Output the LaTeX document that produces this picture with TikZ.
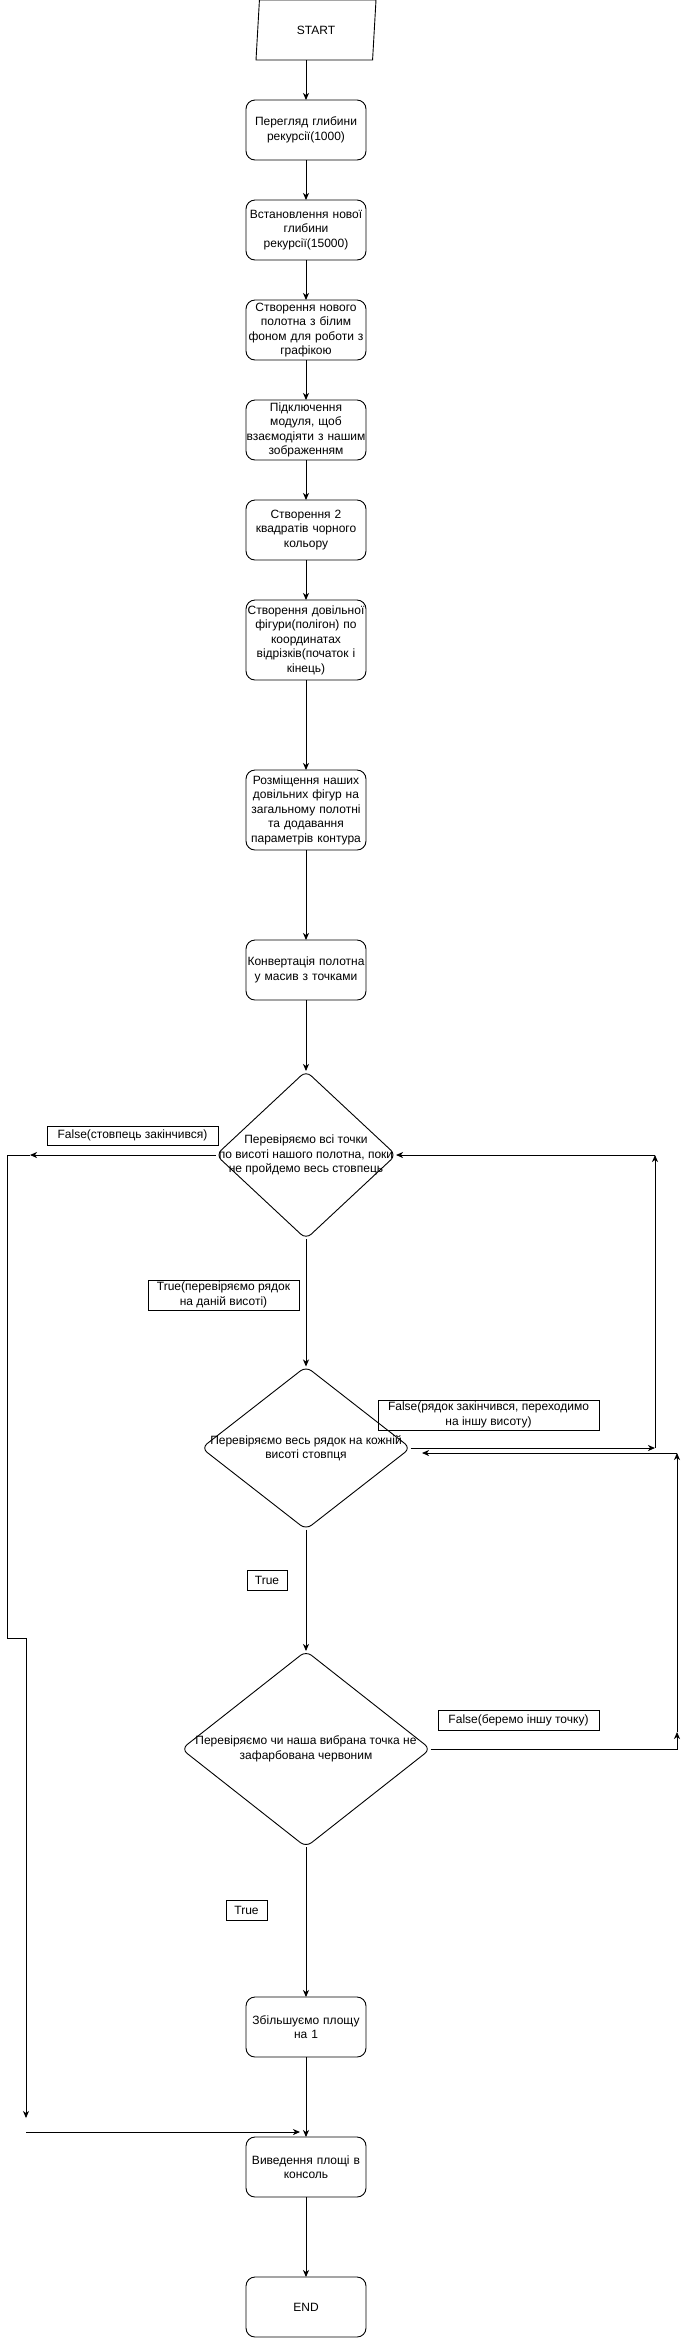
\documentclass[tikz,border=0pt]{standalone}
\usepackage{fontspec}
\setmainfont{Liberation Sans}
\usetikzlibrary{positioning,shapes,arrows.meta}

\begin{document}
\begin{tikzpicture}[
x=1pt, y=-1pt,
line width=0.9pt,
font=\fontsize{12}{14.5}\selectfont,
>={Stealth[length=7pt,width=6pt,inset=2pt]},
io/.style={trapezium, trapezium left angle=68, trapezium right angle=112, trapezium stretches body, draw, minimum width=120pt, minimum height=60pt, inner sep=0pt, outer sep=0pt},
process/.style={rectangle, draw, rounded corners=9pt, text width=120pt, minimum height=60pt, align=center, inner sep=0pt, outer sep=0pt},
decision/.style={diamond, draw, rounded corners=7pt, inner sep=0pt, outer sep=0pt},
dtext/.style={align=center, inner sep=0pt},
lbl/.style={rectangle, draw, align=center, inner sep=0pt},
]
\useasboundingbox (0,0) rectangle (685,2338);

%Start and preparation steps
\node[io] (start) at (316,30) {START};
\node[process] (p1) at (306,130) {Перегляд глибини\\рекурсії(1000)};
\node[process] (p2) [below=40pt of p1] {Встановлення нової\\глибини\\рекурсії(15000)};
\node[process] (p3) [below=40pt of p2] {Створення нового\\полотна з білим\\фоном для роботи з\\графікою};
\node[process] (p4) [below=40pt of p3] {Підключення\\модуля, щоб\\взаємодіяти з нашим\\зображенням};
\node[process] (p5) [below=40pt of p4] {Створення 2\\квадратів чорного\\кольору};
\node[process, minimum height=80pt] (p6) [below=40pt of p5] {Створення довільної\\фігури(полігон) по\\координатах\\відрізків(початок і\\кінець)};
\node[process, minimum height=80pt] (p7) [below=90pt of p6] {Розміщення наших\\довільних фігур на\\загальному полотні\\та додавання\\параметрів контура};
\node[process] (p8) [below=90pt of p7] {Конвертація полотна\\у масив з точками};

%Decisions
\node[decision, minimum width=180pt, minimum height=168pt] (d1) [below=71pt of p8] {};
\node[dtext] at (d1) {Перевіряємо всі точки\\по висоті нашого полотна, поки\\не пройдемо весь стовпець};
\node[decision, minimum width=209pt, minimum height=163pt] (d2) [below=127.5pt of d1] {};
\node[dtext] at (d2) {Перевіряємо весь рядок на кожній\\висоті стовпця};
\node[decision, minimum width=249pt, minimum height=196pt] (d3) [below=121.5pt of d2] {};
\node[dtext] at (d3) {Перевіряємо чи наша вибрана точка не\\зафарбована червоним};

%Final steps
\node[process] (p9) [below=150pt of d3] {Збільшуємо площу\\на 1};
\node[process] (out) [below=80pt of p9] {Виведення площі в\\консоль};
\node[process] (finish) [below=80pt of out] {END};

%Edge labels
\node[lbl, minimum width=171pt, minimum height=19pt] (lf1) at (132.5,1135.5) {False(стовпець закінчився)};
\node[lbl, minimum width=151pt, minimum height=30pt] (lt1) at (223.5,1295) {True(перевіряємо рядок\\на даній висоті)};
\node[lbl, minimum width=221pt, minimum height=30pt] (lf2) at (488.5,1415) {False(рядок закінчився, переходимо\\на іншу висоту)};
\node[lbl, minimum width=40pt, minimum height=20pt] (lt2) at (267,1580) {True};
\node[lbl, minimum width=161pt, minimum height=20pt] (lf3) at (518.5,1720) {False(беремо іншу точку)};
\node[lbl, minimum width=41pt, minimum height=20pt] (lt3) at (246.5,1910) {True};

%Bend points
\coordinate (fcol) at (30,1155);
\coordinate (lc1) at (7,1638);
\coordinate (lc2) at (26,1638);
\coordinate (lc3) at (26,2118);
\coordinate (lc4) at (26,2132);
\coordinate (lc5) at (300,2132);
\coordinate (rr1) at (655,1448);
\coordinate (rr2) at (655,1155);
\coordinate (rb1) at (677,1732);
\coordinate (rb2) at (677,1453);
\coordinate (rb3) at (422,1453);

%Main flow
\draw[->] (start.south -| p1.north) -- (p1.north);
\draw[->] (p1) -- (p2);
\draw[->] (p2) -- (p3);
\draw[->] (p3) -- (p4);
\draw[->] (p4) -- (p5);
\draw[->] (p5) -- (p6);
\draw[->] (p6) -- (p7);
\draw[->] (p7) -- (p8);
\draw[->] (p8) -- (d1);
\draw[->] (d1) -- (d2);
\draw[->] (d2) -- (d3);
\draw[->] (d3) -- (p9);
\draw[->] (p9) -- (out);
\draw[->] (out) -- (finish);

%Column finished
\draw[->] (d1.west) -- (fcol);
\draw[->] (fcol) -| (lc1) -- (lc2) -- (lc3);
\draw[->] (lc4) -- (lc5);

%Row finished
\draw[->] (d2.east) -- (rr1);
\draw[->] (rr1) -- (rr2);
\draw[->] (rr2) -- (d1.east);

%Point already red
\draw[->] (d3.east) -| (rb1);
\draw[->] (rb1) -- (rb2);
\draw[->] (rb2) -- (rb3);
\end{tikzpicture}
\end{document}
